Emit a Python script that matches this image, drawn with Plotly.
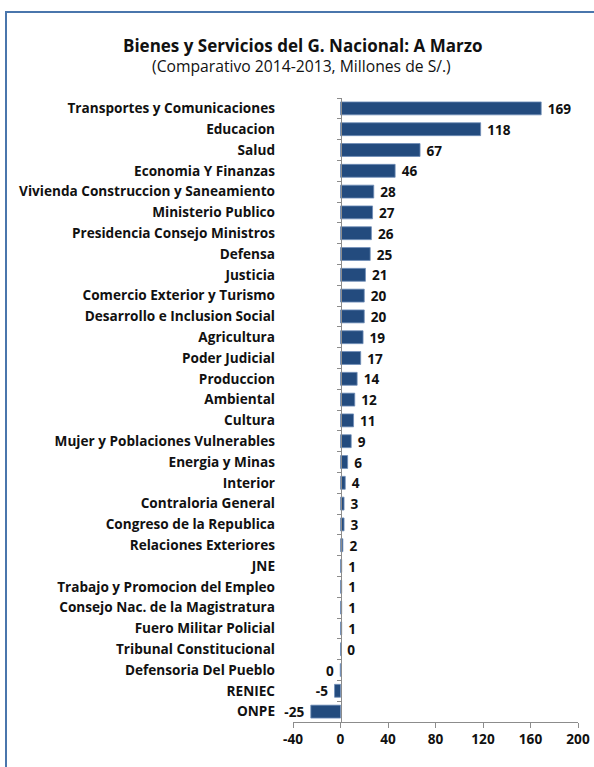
import plotly.graph_objects as go

categories = [
    "Transportes y Comunicaciones", "Educacion", "Salud", "Economia Y Finanzas",
    "Vivienda Construccion y Saneamiento", "Ministerio Publico",
    "Presidencia Consejo Ministros", "Defensa", "Justicia",
    "Comercio Exterior y Turismo", "Desarrollo e Inclusion Social", "Agricultura",
    "Poder Judicial", "Produccion", "Ambiental", "Cultura",
    "Mujer y Poblaciones Vulnerables", "Energia y Minas", "Interior",
    "Contraloria General", "Congreso de la Republica", "Relaciones Exteriores",
    "JNE", "Trabajo y Promocion del Empleo", "Consejo Nac. de la Magistratura",
    "Fuero Militar Policial", "Tribunal Constitucional", "Defensoria Del Pueblo",
    "RENIEC", "ONPE",
]
values = [169, 118, 67, 46, 28, 27, 26, 25, 21, 20, 20, 19, 17, 14, 12, 11, 9, 6, 4,
          3, 3, 2, 1, 1, 1, 1, 0.2, -0.2, -5, -25]

x_min, x_max, x_step = -40, 200, 40
tick_vals = list(range(x_min, x_max + 1, x_step))
tick_text = [str(v) for v in tick_vals]

title_text = "Bienes y Servicios del G. Nacional: A Marzo"
subtitle_text = "(Comparativo 2014-2013, Millones de S/.)"

FONT = "Open Sans"
BAR = "#234B7E"
AX = "#8C8C8C"
BORDER = "#4A76AC"
TXT = "#111111"
FS = 13.6

labels = []
for v in values:
    s = str(int(round(v)))
    labels.append(" " + s if v >= 0 else s + " ")

W, H = 594, 767
L, R, T, B = 293, 16, 98, 45
pw, ph = W - L - R, H - T - B

def px_x(p):
    return (p - L) / pw

def px_y(p):
    return (H - B - p) / ph

fig = go.Figure()
fig.add_trace(go.Bar(
    x=values, y=categories, orientation="h",
    marker=dict(color=BAR, line=dict(color="#6F8DB8", width=0.8)),
    text=labels, textposition="outside", cliponaxis=False,
    constraintext="none",
    textfont=dict(family=FONT, size=FS, color=TXT, weight="bold"),
    hoverinfo="skip", showlegend=False,
))
# helper trace on overlay axis that carries the vertical axis at x=0
fig.add_trace(go.Scatter(
    x=[0] * len(categories), y=categories, yaxis="y2", mode="markers",
    marker=dict(opacity=0, size=1), hoverinfo="skip", showlegend=False,
))

zero_pos = (0 - x_min) / (x_max - x_min)
cat_range = [len(categories) - 0.5, -0.5]

fig.update_layout(
    width=W, height=H,
    margin=dict(l=L, r=R, t=T, b=B, autoexpand=False),
    paper_bgcolor="white", plot_bgcolor="white",
    bargap=0.38,
    font=dict(family=FONT, color=TXT),
    xaxis=dict(
        range=[x_min, x_max], tickvals=tick_vals, ticktext=tick_text,
        showgrid=False, zeroline=False,
        showline=True, linecolor=AX, linewidth=1, ticks="outside", ticklen=5,
        tickcolor=AX, tickfont=dict(family=FONT, size=FS, color=TXT, weight="bold"),
        fixedrange=True, automargin=False,
    ),
    yaxis=dict(
        type="category", categoryorder="array", categoryarray=categories,
        range=cat_range, autorange=False, showgrid=False, showline=False, ticks="",
        ticklabelstandoff=17, automargin=False,
        tickfont=dict(family=FONT, size=FS, color=TXT, weight="bold"),
    ),
    yaxis2=dict(
        type="category", categoryorder="array", categoryarray=categories,
        overlaying="y", matches="y", anchor="free", position=zero_pos, side="left",
        range=cat_range, autorange=False,
        showgrid=False, showline=True, linecolor=AX, linewidth=1,
        ticks="outside", tickson="boundaries", ticklen=4, tickcolor=AX,
        showticklabels=False, automargin=False,
    ),
    annotations=[
        dict(text="<b>" + title_text + "</b>", xref="paper", yref="paper",
             x=px_x(302.5), y=px_y(45), showarrow=False, xanchor="center", yanchor="middle",
             font=dict(family=FONT, size=17, color=TXT)),
        dict(text=subtitle_text, xref="paper", yref="paper",
             x=px_x(301.5), y=px_y(66), showarrow=False, xanchor="center", yanchor="middle",
             font=dict(family=FONT, size=15.7, color=TXT)),
    ],
    shapes=[
        dict(type="rect", xref="paper", yref="paper",
             x0=px_x(6), x1=px_x(W + 10), y0=px_y(H + 10), y1=px_y(12),
             line=dict(color=BORDER, width=2), fillcolor="rgba(0,0,0,0)", layer="below"),
    ],
)

fig.write_html("out.html", config={"displayModeBar": False},
               post_script="document.body.style.margin='0';")
